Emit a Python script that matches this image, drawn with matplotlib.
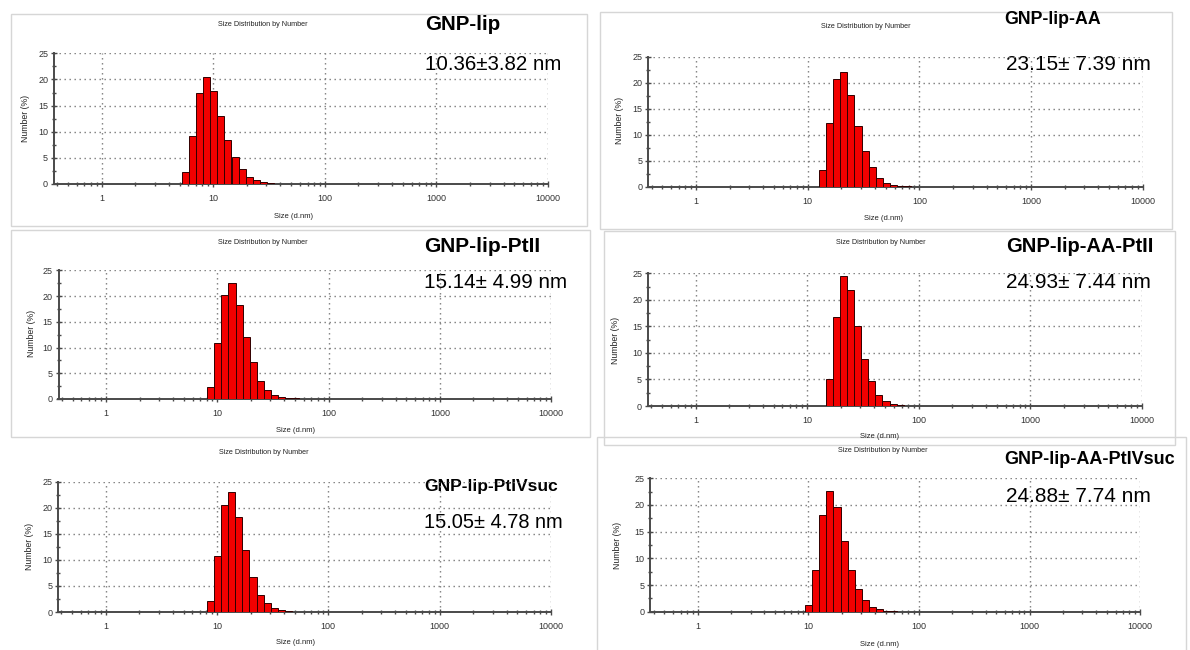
#!/usr/bin/env python3
"""Six Zetasizer 'Size Distribution by Number' panels for the GNP liposome samples."""

import matplotlib.pyplot as plt
import numpy as np
from matplotlib.patches import Rectangle
from matplotlib.ticker import FixedLocator, NullFormatter

plt.rcParams["font.family"] = ["Liberation Sans", "DejaVu Sans"]

# Zetasizer size classes (nm) and number-% per class
lip_sizes = [5.615, 6.503, 7.531, 8.721, 10.1, 11.7, 13.54, 15.69, 18.17, 21.04, 24.36, 28.21, 32.67, 37.84]
lip_number = [2.2, 9.2, 17.5, 20.4, 17.8, 13.0, 8.5, 5.2, 2.8, 1.4, 0.7, 0.3, 0.15, 0.05]

lip_aa_sizes = [13.54, 15.69, 18.17, 21.04, 24.36, 28.21, 32.67, 37.84, 43.82, 50.75, 58.77, 68.06, 78.82]
lip_aa_number = [3.2, 12.3, 20.8, 22.1, 17.6, 11.7, 6.9, 3.7, 1.6, 0.8, 0.4, 0.15, 0.05]

lip_pt2_sizes = [8.721, 10.1, 11.7, 13.54, 15.69, 18.17, 21.04, 24.36, 28.21, 32.67, 37.84, 43.82, 50.75]
lip_pt2_number = [2.4, 10.9, 20.2, 22.5, 18.3, 12.0, 7.1, 3.5, 1.8, 0.8, 0.4, 0.2, 0.1]

lip_aa_pt2_sizes = [15.69, 18.17, 21.04, 24.36, 28.21, 32.67, 37.84, 43.82, 50.75, 58.77, 68.06, 78.82]
lip_aa_pt2_number = [5.1, 16.8, 24.4, 21.9, 15.0, 8.9, 4.7, 2.1, 0.9, 0.4, 0.15, 0.05]

lip_pt4_sizes = [8.721, 10.1, 11.7, 13.54, 15.69, 18.17, 21.04, 24.36, 28.21, 32.67, 37.84, 43.82, 50.75]
lip_pt4_number = [2.2, 10.7, 20.5, 23.0, 18.3, 11.9, 6.8, 3.3, 1.7, 0.7, 0.3, 0.15, 0.05]

lip_aa_pt4_sizes = [10.1, 11.7, 13.54, 15.69, 18.17, 21.04, 24.36, 28.21, 32.67, 37.84, 43.82, 50.75, 58.77]
lip_aa_pt4_number = [1.25, 7.9, 18.1, 22.6, 19.6, 13.3, 7.9, 4.2, 2.1, 0.9, 0.5, 0.2, 0.08]

sample_names = ["GNP-lip", "GNP-lip-AA", "GNP-lip-PtII", "GNP-lip-AA-PtII",
                "GNP-lip-PtIVsuc", "GNP-lip-AA-PtIVsuc"]
sample_sizes = ["10.36\u00b13.82 nm", "23.15\u00b1 7.39 nm", "15.14\u00b1 4.99 nm",
                "24.93\u00b1 7.44 nm", "15.05\u00b1 4.78 nm", "24.88\u00b1 7.74 nm"]

W, H = 1190, 650
CLASS_RATIO = 1.158  # neighbouring Zetasizer classes

# layout in pixels: axes box (left, top, right, bottom), frame, text anchors, label font sizes
PANELS = [
    dict(ax=(54, 53.3, 548, 184), frame=(11, 14, 587, 226), title=(263, 24),
         name=(425, 24), size=(425, 65), xlab=(293, 216), ylab=(25, 118), fs=(14.8, 14.8)),
    dict(ax=(648.3, 56.7, 1142.8, 186.7), frame=(600, 12, 1172, 229), title=(866, 26),
         name=(1004, 20), size=(1006, 64), xlab=(883, 218), ylab=(619, 120), fs=(12.8, 15.0)),
    dict(ax=(58.5, 270.3, 551.2, 399), frame=(11, 230, 590, 437), title=(263, 242),
         name=(424, 246), size=(424, 282), xlab=(296, 431), ylab=(31, 333), fs=(15.0, 14.9)),
    dict(ax=(648, 273.3, 1142, 406), frame=(604, 231, 1175, 445), title=(881, 242),
         name=(1006, 246), size=(1006, 283), xlab=(880, 437), ylab=(615, 340), fs=(14.5, 15.0)),
    dict(ax=(58.2, 481.7, 550.9, 612), frame=None, title=(264, 453),
         name=(424, 487), size=(424, 522), xlab=(296, 643), ylab=(30, 546), fs=(12.5, 14.4)),
    dict(ax=(650.5, 478.3, 1140.1, 611.7), frame=(597, 437, 1186, 651), title=(883, 450),
         name=(1004, 460), size=(1006, 497), xlab=(880, 645), ylab=(617, 545), fs=(13.0, 15.0)),
]

DATA = [
    (lip_sizes, lip_number),
    (lip_aa_sizes, lip_aa_number),
    (lip_pt2_sizes, lip_pt2_number),
    (lip_aa_pt2_sizes, lip_aa_pt2_number),
    (lip_pt4_sizes, lip_pt4_number),
    (lip_aa_pt4_sizes, lip_aa_pt4_number),
]


def draw_panel(ax, sizes, number):
    sizes = np.asarray(sizes)
    half = np.sqrt(CLASS_RATIO)
    left = sizes / half
    ax.bar(left, number, width=sizes * half - left, align="edge",
           color="#f20000", edgecolor="#300000", linewidth=0.7, zorder=3)

    ax.set_xscale("log")
    ax.set_xlim(0.374, 10000)
    ax.set_ylim(0, 25)
    ax.xaxis.set_major_locator(FixedLocator([1, 10, 100, 1000, 10000]))
    ax.xaxis.set_major_formatter(plt.FuncFormatter(lambda v, _: f"{v:g}"))
    minors = [m * 10.0**e for e in range(-1, 4) for m in range(2, 10)]
    ax.xaxis.set_minor_locator(FixedLocator([v for v in minors if 0.374 < v < 10000]))
    ax.xaxis.set_minor_formatter(NullFormatter())
    ax.yaxis.set_major_locator(FixedLocator([0, 5, 10, 15, 20, 25]))
    ax.yaxis.set_minor_locator(FixedLocator(np.arange(2.5, 25, 5)))

    ax.grid(True, which="major", color="#7a7a7a", linewidth=1.0,
            linestyle=(0, (1, 2.6)), zorder=1)
    for side in ("top", "right"):
        ax.spines[side].set_visible(False)
    for side in ("left", "bottom"):
        ax.spines[side].set_color("#4a4a4a")
        ax.spines[side].set_linewidth(1.4)
    ax.tick_params(which="major", direction="inout", length=4.5, width=1.0,
                   color="#4a4a4a", labelsize=6.5, labelcolor="#333333", pad=2)
    ax.tick_params(which="minor", direction="inout", length=3, width=1.0,
                   color="#4a4a4a")
    ax.tick_params(axis="x", pad=5)
    ax.patch.set_alpha(0)


def main() -> None:
    fig = plt.figure(figsize=(W / 100, H / 100), dpi=100)
    bg = fig.add_axes([0, 0, 1, 1], zorder=0)
    bg.set_xlim(0, W)
    bg.set_ylim(H, 0)
    bg.axis("off")

    for spec, (sizes, number), name, size in zip(PANELS, DATA, sample_names, sample_sizes):
        if spec["frame"] is not None:
            x0, y0, x1, y1 = spec["frame"]
            bg.add_patch(Rectangle((x0, y0), x1 - x0, y1 - y0, fill=False,
                                   edgecolor="#d6d6d6", linewidth=1.0))
        name_fs, size_fs = spec["fs"]
        bg.text(*spec["title"], "Size Distribution by Number", fontsize=5.2,
                ha="center", va="center", color="#222222")
        bg.text(*spec["name"], name, fontsize=name_fs, fontweight="bold",
                ha="left", va="center", color="black")
        bg.text(*spec["size"], size, fontsize=size_fs, ha="left", va="center",
                color="black")
        bg.text(*spec["xlab"], "Size (d.nm)", fontsize=5.5, ha="center",
                va="center", color="#222222")
        bg.text(*spec["ylab"], "Number (%)", fontsize=6.3, ha="center",
                va="center", rotation=90, color="#222222")

        l, t, r, b = spec["ax"]
        ax = fig.add_axes([l / W, 1 - b / H, (r - l) / W, (b - t) / H], zorder=2)
        draw_panel(ax, sizes, number)

    fig.savefig("out.png", dpi=100, facecolor="white")
    plt.close(fig)


if __name__ == "__main__":
    main()
